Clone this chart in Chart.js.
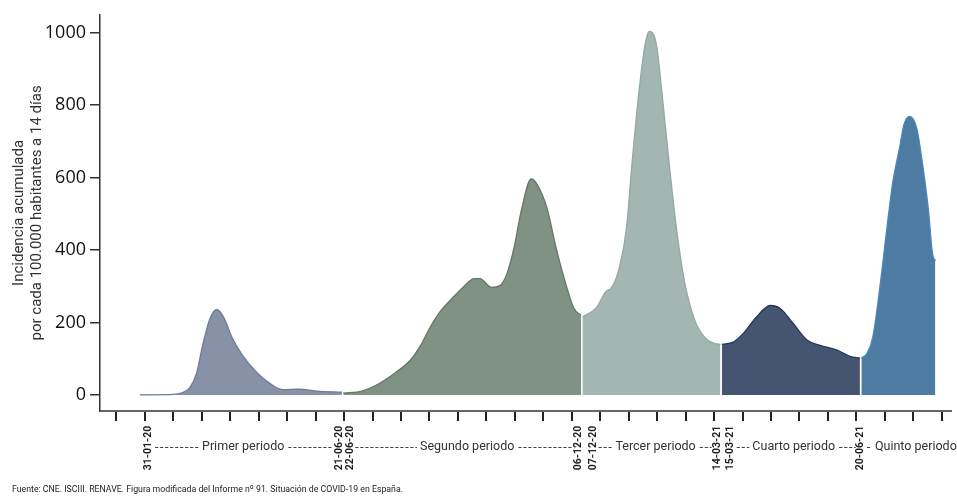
<!DOCTYPE html>
<html>
<head>
<meta charset="utf-8">
<script src="https://cdn.jsdelivr.net/npm/chart.js@4/dist/chart.umd.min.js"></script>
<style>
  html, body { margin: 0; padding: 0; background: #fff; }
</style>
</head>
<body>
<canvas id="myChart" width="957" height="496"></canvas>
<script>
'use strict';

// days counted from 31-01-20
var days1 = [0, 20, 29, 35, 40, 44, 49, 54, 59, 65, 72, 82, 91, 100, 112, 124, 142];
var vals1 = [0.5, 1, 5, 20, 62, 135, 208, 236, 214, 157, 110, 63, 33, 15, 16, 11, 8];

var days2 = [143, 156, 166, 180, 190, 197, 204, 211, 220, 227, 235, 239, 247, 253, 258, 263, 268, 275, 279, 286, 293, 300, 305, 310];
var vals2 = [5, 11, 27, 63, 96, 135, 187, 230, 269, 297, 321, 321, 297, 302, 335, 407, 508, 596, 582, 517, 398, 297, 239, 220];

var days3 = [311, 321, 328, 331, 337, 342, 346, 351, 355, 358, 363, 367, 372, 377, 383, 390, 397, 403, 408];
var vals3 = [215, 242, 288, 294, 352, 462, 646, 846, 967, 1003, 967, 830, 637, 462, 308, 206, 159, 143, 140];

var days4 = [409, 417, 424, 433, 443, 450, 459, 469, 478, 490, 499, 506];
var vals4 = [140, 146, 170, 214, 247, 239, 198, 151, 137, 124, 107, 102];

var days5 = [507, 511, 515, 520, 525, 529, 534, 537, 541, 546, 549, 554, 557, 559];
var vals5 = [102, 115, 159, 297, 462, 585, 685, 747, 769, 735, 665, 516, 390, 370];

var yTicks = [0, 200, 400, 600, 800, 1000];

var dateLabels = ['31-01-20', '21-06-20', '22-06-20', '06-12-20', '07-12-20', '14-03-21', '15-03-21', '20-06-21'];
var dateLabelDays = [5.8, 140.1, 147.8, 307.9, 318.4, 405.6, 414.8, 506.2];

var periodNames = ['Primer periodo', 'Segundo periodo', 'Tercer periodo', 'Cuarto periodo', 'Quinto periodo'];
var periodCenterDays = [72.6, 230, 362.4, 459.5, 545.3];
var periodDashFrom = [10.7, 151.4, 322.3, 419.4, 510.9];
var periodDashTo = [135.9, 304, 401.8, 503.1, 517.2];

var sourceText = 'Fuente: CNE. ISCIII. RENAVE. Figura modificada del Informe nº 91. Situación de COVID-19 en España.';

function toPoints(days, vals) {
  return days.map(function(d, i) { return { x: d, y: vals[i] }; });
}

function area(days, vals, fillColor, lineColor) {
  return {
    data: toPoints(days, vals),
    backgroundColor: fillColor,
    borderColor: lineColor,
    borderWidth: 1.3,
    fill: 'origin',
    pointRadius: 0,
    cubicInterpolationMode: 'monotone'
  };
}

var bottomText = {
  id: 'bottomText',
  afterDraw: function(chart) {
    var ctx = chart.ctx;
    var xs = chart.scales.x;
    ctx.save();

    // dates under the axis
    ctx.fillStyle = '#222';
    ctx.font = 'bold 10.5px Roboto';
    ctx.textAlign = 'center';
    ctx.textBaseline = 'middle';
    dateLabels.forEach(function(t, i) {
      ctx.save();
      ctx.translate(xs.getPixelForValue(dateLabelDays[i]), 448);
      ctx.rotate(-Math.PI / 2);
      ctx.fillText(t, 0, 0);
      ctx.restore();
    });

    // period names with dashes
    ctx.font = '12.5px Roboto';
    ctx.fillStyle = '#333';
    ctx.strokeStyle = '#444';
    ctx.lineWidth = 1.2;
    ctx.setLineDash([3.2, 1.8]);
    periodNames.forEach(function(name, i) {
      var cx = xs.getPixelForValue(periodCenterDays[i]);
      var w = ctx.measureText(name).width;
      ctx.fillText(name, cx, 447);
      var a = xs.getPixelForValue(periodDashFrom[i]);
      var b = xs.getPixelForValue(periodDashTo[i]);
      ctx.beginPath();
      ctx.moveTo(a, 447.5);
      ctx.lineTo(Math.min(b, cx - w / 2 - 3), 447.5);
      if (b > cx + w / 2 + 4) {
        ctx.moveTo(cx + w / 2 + 4, 447.5);
        ctx.lineTo(b, 447.5);
      }
      ctx.stroke();
    });
    ctx.setLineDash([]);

    // source line
    ctx.font = '9.5px Roboto';
    ctx.textAlign = 'left';
    ctx.fillStyle = '#222';
    var sw = ctx.measureText(sourceText).width;
    ctx.save();
    ctx.translate(12, 490);
    ctx.scale(391 / sw, 1);
    ctx.fillText(sourceText, 0, 0);
    ctx.restore();

    ctx.restore();
  }
};

var ctx = document.getElementById('myChart');

var myChart = new Chart(ctx, {
  type: 'line',
  data: {
    datasets: [
      area(days1, vals1, '#8791a8', '#6f7d98'),
      area(days2, vals2, '#7f9283', '#64786a'),
      area(days3, vals3, '#a3b6b1', '#93a9a2'),
      area(days4, vals4, '#455571', '#27375a'),
      area(days5, vals5, '#4d7ba1', '#4a86c0')
    ]
  },
  options: {
    responsive: false,
    animation: false,
    layout: { padding: { top: 13, right: 6, left: 0, bottom: 0 } },
    plugins: {
      legend: { display: false },
      tooltip: { enabled: false }
    },
    scales: {
      x: {
        type: 'linear',
        min: -28,
        max: 570,
        afterFit: function(scale) { scale.height = 85; },
        afterBuildTicks: function(axis) {
          var t = [];
          for (var d = -16.5; d < 570; d += 20) t.push({ value: d });
          axis.ticks = t;
        },
        border: { color: '#666', width: 2 },
        grid: { drawOnChartArea: false, drawTicks: true, tickLength: 10, color: '#222', lineWidth: 2 },
        ticks: { autoSkip: false, maxRotation: 0, callback: function() { return ''; } }
      },
      y: {
        min: -44,
        max: 1049,
        afterFit: function(scale) { scale.width = 100; },
        afterBuildTicks: function(axis) {
          axis.ticks = yTicks.map(function(v) { return { value: v }; });
        },
        border: { color: '#333', width: 1.5 },
        grid: { drawOnChartArea: false, drawTicks: true, tickLength: 10, color: '#333', lineWidth: 1.5 },
        ticks: {
          color: '#111',
          padding: 4,
          font: { family: 'Open Sans', size: 18, weight: '500' },
          callback: function(v) { return String(v); }
        },
        title: {
          display: true,
          text: ['Incidencia acumulada', 'por cada 100.000 habitantes a 14 días'],
          color: '#333',
          font: { family: 'Roboto', size: 15, lineHeight: 1.2 },
          padding: { top: 10, bottom: 0 }
        }
      }
    }
  },
  plugins: [bottomText]
});
</script>
</body>
</html>
